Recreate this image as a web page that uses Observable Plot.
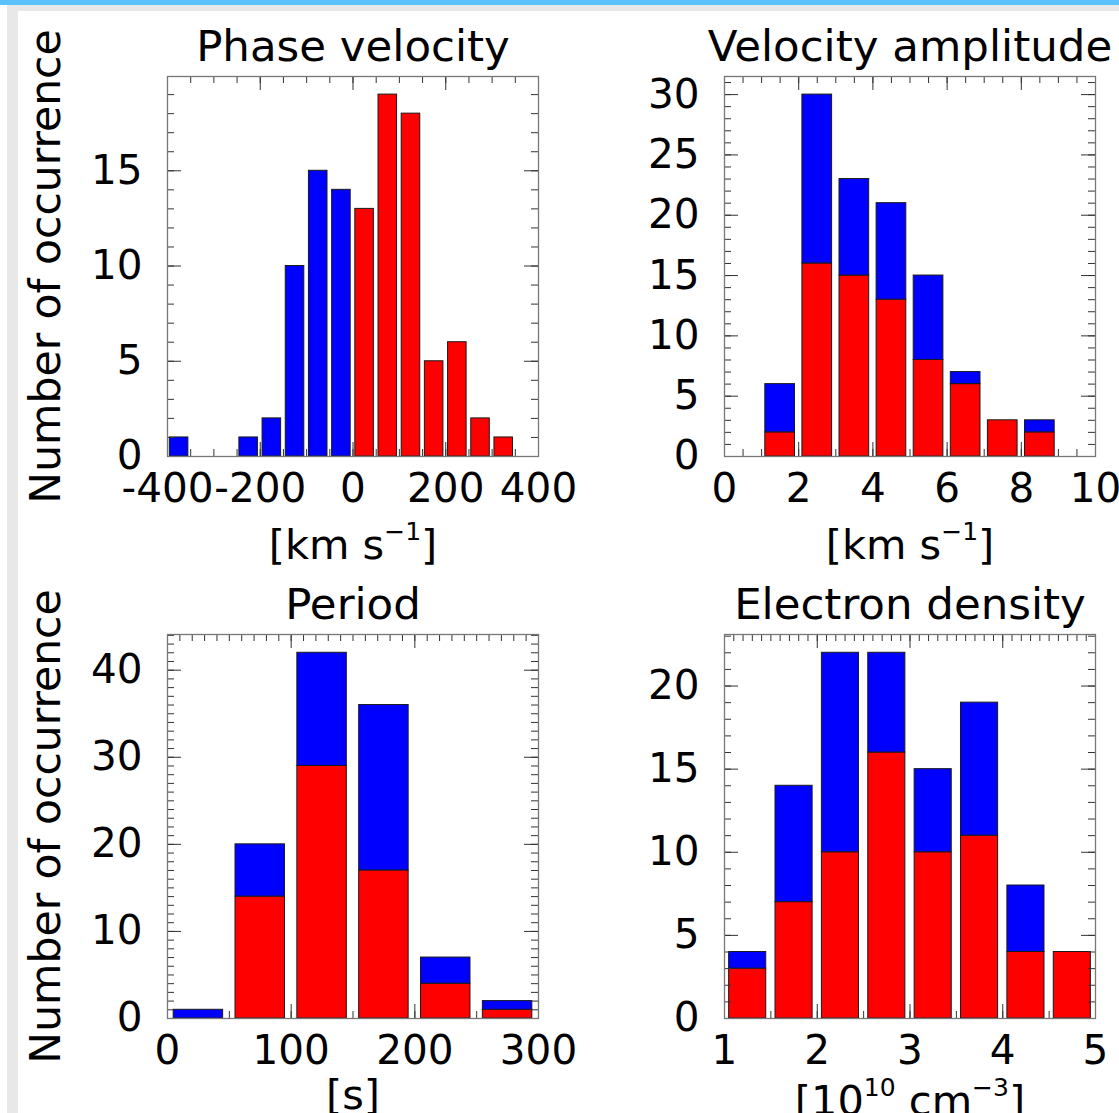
<!DOCTYPE html>
<html>
<head>
<meta charset="utf-8">
<script src="https://cdn.jsdelivr.net/npm/d3@7"></script>
<script src="https://cdn.jsdelivr.net/npm/@observablehq/plot@0.6"></script>
<style>
html, body { margin: 0; padding: 0; background: #fff; overflow: hidden; width: 1119px; height: 1113px; }
#page { position: relative; width: 1119px; height: 1113px; overflow: hidden; font-family: "DejaVu Sans", sans-serif; }
.deco { position: absolute; z-index: 5; }
.panel { position: absolute; width: 560px; height: 570px; }
</style>
</head>
<body>
<div id="page">
  <div class="deco" style="left:0;top:0;width:1119px;height:5px;background:#5bc1fa;"></div>
  <div class="deco" style="left:7px;top:5px;width:1112px;height:6px;background:#e8e8e8;"></div>
  <div class="deco" style="left:7px;top:5px;width:11px;height:1108px;background:#e8e8e8;"></div>
  <div class="panel" id="p1" style="left:0;top:0;"></div>
  <div class="panel" id="p2" style="left:557px;top:0;"></div>
  <div class="panel" id="p3" style="left:0;top:558px;"></div>
  <div class="panel" id="p4" style="left:557px;top:558px;"></div>
</div>
<script>
// ---------------- data ----------------
// Phase velocity [km s^-1], bins of width 50 (lower edges)
const phaseBins = [-400, -350, -300, -250, -200, -150, -100, -50, 0, 50, 100, 150, 200, 250, 300];
const phaseRed  = [0, 0, 0, 0, 0, 0, 0, 0, 13, 19, 18, 5, 6, 2, 1];
const phaseBlue = [1, 0, 0, 1, 2, 10, 15, 14, 0, 0, 0, 0, 0, 0, 0];

// Velocity amplitude [km s^-1], bins of width 1
const ampBins = [1, 2, 3, 4, 5, 6, 7, 8];
const ampRed  = [2, 16, 15, 13, 8, 6, 3, 2];
const ampBlue = [4, 14, 8, 8, 7, 1, 0, 1];

// Period [s], bins of width 50
const perBins = [0, 50, 100, 150, 200, 250];
const perRed  = [0, 14, 29, 17, 4, 1];
const perBlue = [1, 6, 13, 19, 3, 1];

// Electron density [10^10 cm^-3], bins of width 0.5
const denBins = [1, 1.5, 2, 2.5, 3, 3.5, 4, 4.5];
const denRed  = [3, 7, 10, 16, 10, 11, 4, 4];
const denBlue = [1, 7, 12, 6, 5, 8, 4, 0];

// tick labels
const phaseXTicks = [-400, -200, 0, 200, 400];
const phaseYTicks = [0, 5, 10, 15];
const ampXTicks = [0, 2, 4, 6, 8, 10];
const ampYTicks = [0, 5, 10, 15, 20, 25, 30];
const perXTicks = [0, 100, 200, 300];
const perYTicks = [0, 10, 20, 30, 40];
const denXTicks = [1, 2, 3, 4, 5];
const denYTicks = [0, 5, 10, 15, 20];

const titles = ["Phase velocity", "Velocity amplitude", "Period", "Electron density"];
const xLabels = ["[km s^{−1}]", "[km s^{−1}]", "[s]", "[10^{10} cm^{−3}]"];
const yLabel = "Number of occurrence";

// ---------------- drawing ----------------
const RED = "#ff0000", BLUE = "#0000ff";

function makePanel(cfg) {
  const W = 560, H = 570, ml = 167, mr = 22;
  const innerW = W - ml - mr, innerH = H - cfg.mt - cfg.mb;
  const totals = cfg.bins.map((b, i) => cfg.red[i] + cfg.blue[i]);
  const yMax = d3.max(totals) * 1.05;
  const rows = [];
  cfg.bins.forEach((b, i) => {
    const x1 = b, x2 = b + cfg.binWidth;
    if (cfg.red[i] > 0) rows.push({series: "red", x1, x2, y1: 0, y2: cfg.red[i]});
    if (cfg.blue[i] > 0) rows.push({series: "blue", x1, x2, y1: cfg.red[i], y2: cfg.red[i] + cfg.blue[i]});
  });
  const span = cfg.xDomain[1] - cfg.xDomain[0];
  const inset = 0.1 * innerW * cfg.binWidth / span;
  const yMinor = d3.range(0, yMax, cfg.yMinorStep);
  const xMinor = d3.range(cfg.xDomain[0], cfg.xDomain[1] + cfg.xMinorStep / 2, cfg.xMinorStep);
  const maj = 14, mnr = 7, tickColor = "#333";
  const marks = [
    Plot.ruleX(xMinor, {x: d => d, insetTop: innerH - mnr, stroke: tickColor}),
    Plot.ruleX(cfg.xTicks, {x: d => d, insetTop: innerH - maj, stroke: tickColor}),
    Plot.rectY(rows.filter(r => r.series === "red"), {x1: "x1", x2: "x2", y1: "y1", y2: "y2", fill: RED, stroke: "#1a1a1a", strokeWidth: 1, insetLeft: inset, insetRight: inset}),
    Plot.rectY(rows.filter(r => r.series === "blue"), {x1: "x1", x2: "x2", y1: "y1", y2: "y2", fill: BLUE, stroke: "#1a1a1a", strokeWidth: 1, insetLeft: inset, insetRight: inset}),
    Plot.ruleX(xMinor, {x: d => d, insetBottom: innerH - mnr, stroke: tickColor}),
    Plot.ruleX(cfg.xTicks, {x: d => d, insetBottom: innerH - maj, stroke: tickColor}),
    Plot.ruleY(yMinor, {y: d => d, insetRight: innerW - mnr, stroke: tickColor}),
    Plot.ruleY(yMinor, {y: d => d, insetLeft: innerW - mnr, stroke: tickColor}),
    Plot.ruleY(cfg.yTicks, {y: d => d, insetRight: innerW - maj, stroke: tickColor}),
    Plot.ruleY(cfg.yTicks, {y: d => d, insetLeft: innerW - maj, stroke: tickColor}),
    Plot.frame({stroke: "#777", strokeWidth: 1.3}),
    Plot.text(cfg.xTicks, {x: d => d, frameAnchor: "bottom", dy: 45, lineAnchor: "bottom", textAnchor: "middle", text: d => String(d), fontSize: 40.5, fill: "#000"}),
    Plot.text(cfg.yTicks, {y: d => d, frameAnchor: "left", dx: -25, textAnchor: "end", lineAnchor: "middle", text: d => String(d), fontSize: 40.5, fill: "#000"}),
    Plot.text([cfg.title], {frameAnchor: "top", dy: -16, lineAnchor: "bottom", textAnchor: "middle", text: d => d, fontSize: 43.5, fill: "#000"}),
    Plot.text([cfg.xlabel], {frameAnchor: "bottom", dy: cfg.xlabelDy, lineAnchor: "bottom", textAnchor: "middle", text: d => d, fontSize: 41.5, fill: "#000"})
  ];
  if (cfg.ylabel) {
    marks.push(Plot.text([cfg.ylabel], {frameAnchor: "left", dx: -108, rotate: -90, lineAnchor: "bottom", textAnchor: "middle", text: d => d, fontSize: 42.5, fill: "#000"}));
  }
  const svg = Plot.plot({
    width: W, height: H,
    marginLeft: ml, marginRight: mr, marginTop: cfg.mt, marginBottom: cfg.mb,
    x: {domain: cfg.xDomain, axis: null},
    y: {domain: [0, yMax], axis: null},
    style: {fontFamily: "DejaVu Sans, sans-serif", background: "transparent", overflow: "visible"},
    marks
  });
  applySup(svg);
  document.getElementById(cfg.id).appendChild(svg);
}

function applySup(svg) {
  const ns = "http://www.w3.org/2000/svg";
  svg.querySelectorAll("text").forEach(t => {
    const s = t.textContent;
    if (!s.includes("^{")) return;
    t.textContent = "";
    const parts = s.split(/\^\{([^}]*)\}/);
    let shift = 0;
    parts.forEach((p, i) => {
      if (!p) return;
      const sup = i % 2 === 1;
      const target = sup ? -19 : 0;
      const ts = document.createElementNS(ns, "tspan");
      ts.setAttribute("dy", String(target - shift));
      shift = target;
      if (sup) ts.setAttribute("font-size", "25");
      ts.textContent = p;
      t.appendChild(ts);
    });
  });
}

makePanel({id: "p1", mt: 76, mb: 114, xDomain: [-400, 400], bins: phaseBins, binWidth: 50, red: phaseRed, blue: phaseBlue,
  xTicks: phaseXTicks, yTicks: phaseYTicks, xMinorStep: 50, yMinorStep: 1, title: titles[0], xlabel: xLabels[0], xlabelDy: 102, ylabel: yLabel});
makePanel({id: "p2", mt: 76, mb: 114, xDomain: [0, 10], bins: ampBins, binWidth: 1, red: ampRed, blue: ampBlue,
  xTicks: ampXTicks, yTicks: ampYTicks, xMinorStep: 0.5, yMinorStep: 1, title: titles[1], xlabel: xLabels[1], xlabelDy: 102});
makePanel({id: "p3", mt: 76, mb: 110, xDomain: [0, 300], bins: perBins, binWidth: 50, red: perRed, blue: perBlue,
  xTicks: perXTicks, yTicks: perYTicks, xMinorStep: 10, yMinorStep: 1, title: titles[2], xlabel: xLabels[2], xlabelDy: 90, ylabel: yLabel});
makePanel({id: "p4", mt: 76, mb: 110, xDomain: [1, 5], bins: denBins, binWidth: 0.5, red: denRed, blue: denBlue,
  xTicks: denXTicks, yTicks: denYTicks, xMinorStep: 0.1, yMinorStep: 1, title: titles[3], xlabel: xLabels[3], xlabelDy: 96});
</script>
</body>
</html>
